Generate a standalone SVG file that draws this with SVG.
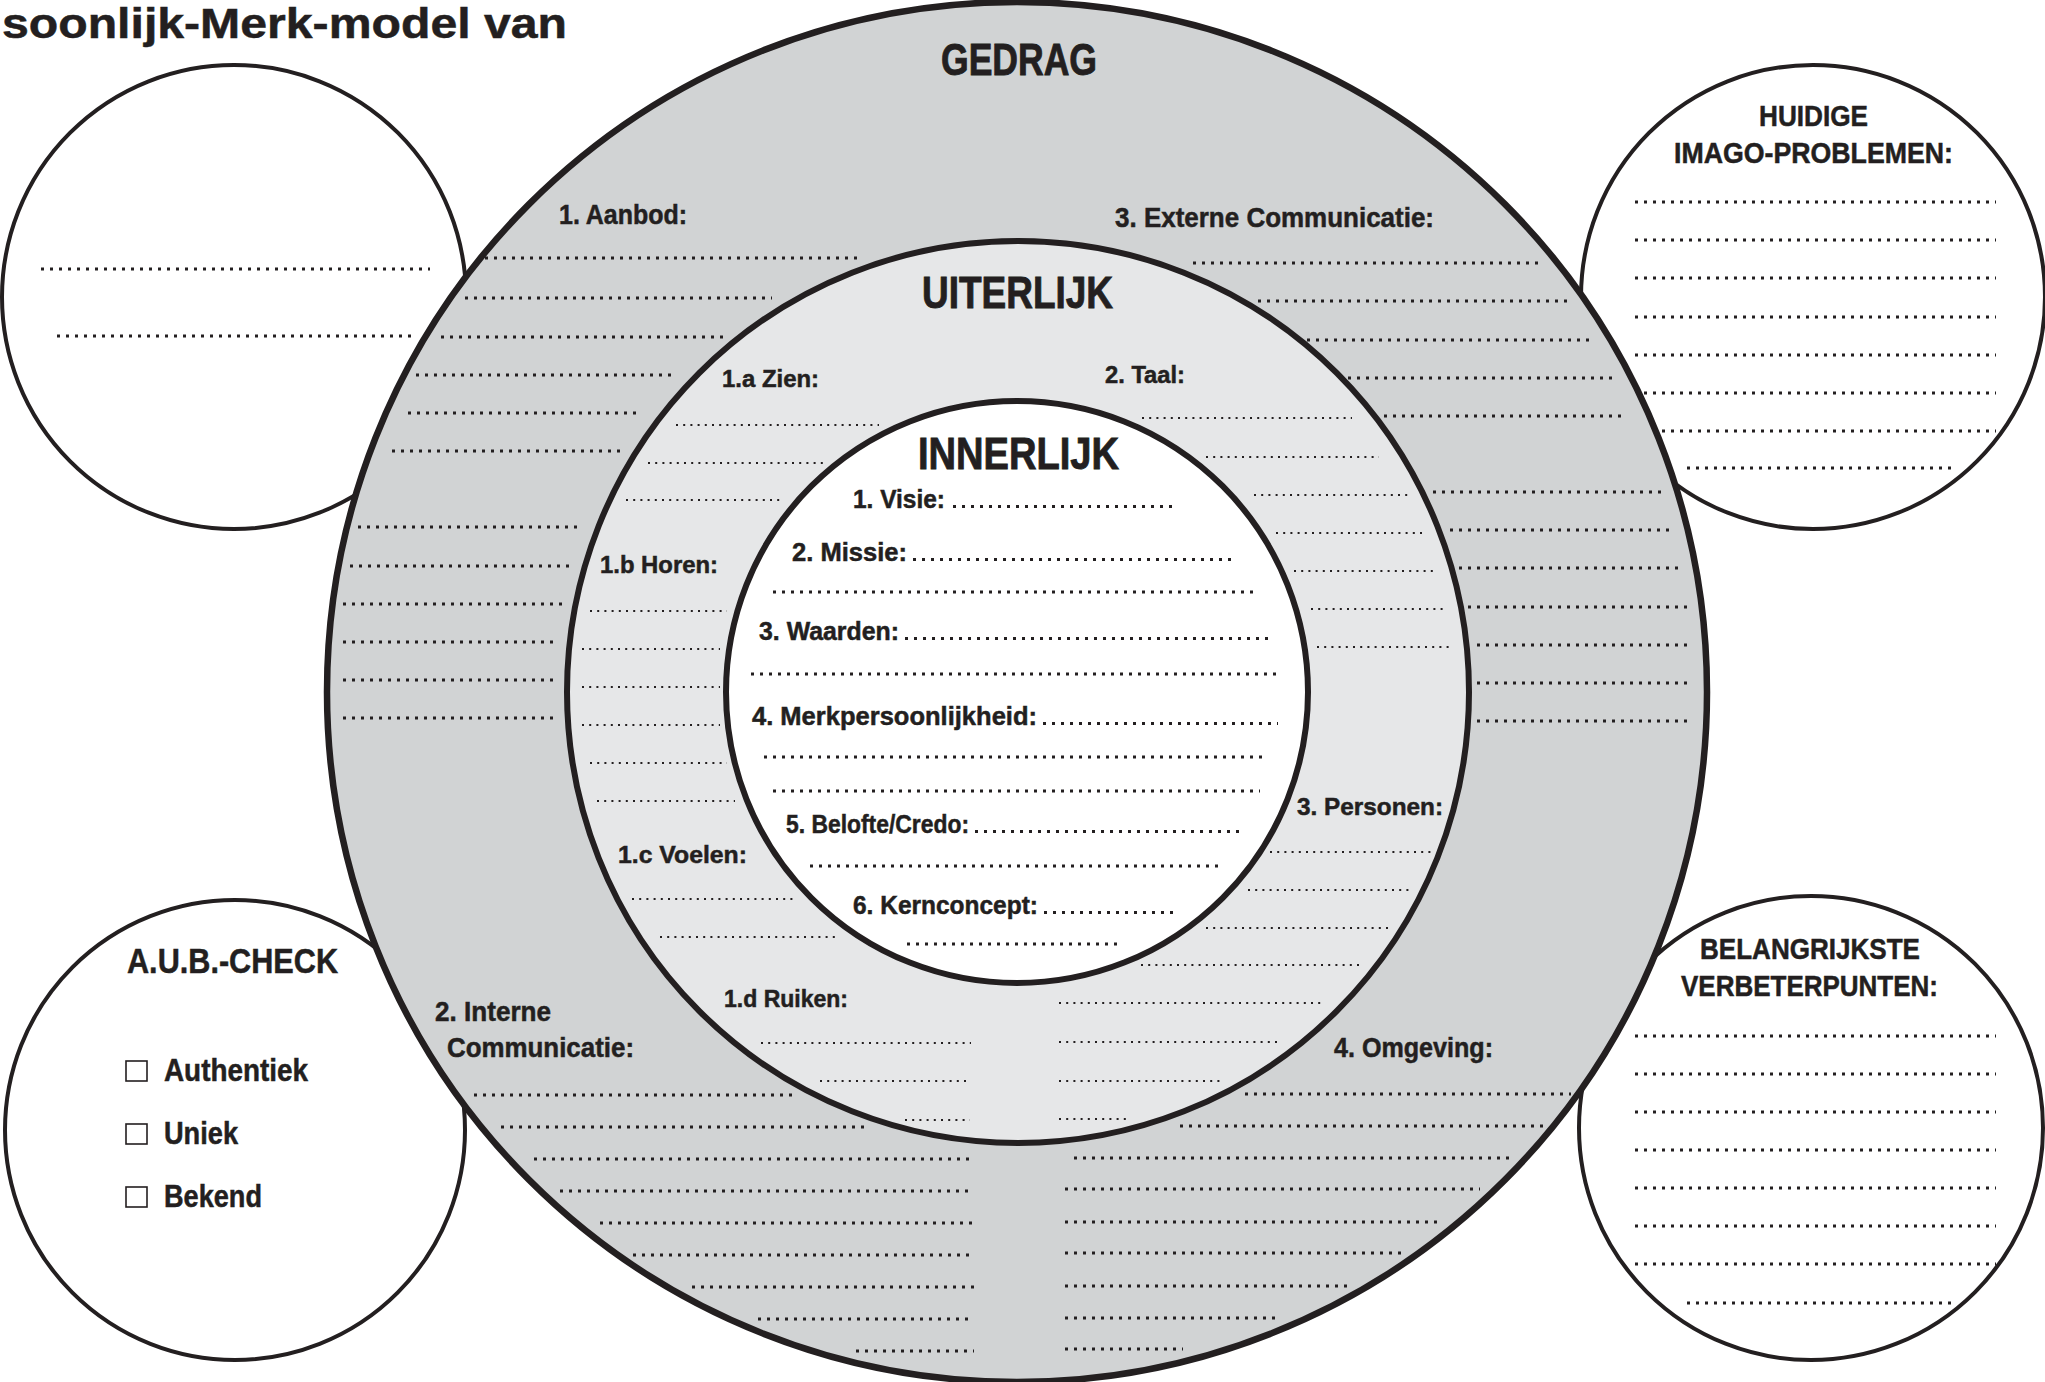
<svg xmlns="http://www.w3.org/2000/svg" width="2045" height="1382" viewBox="0 0 2045 1382">
<style>
  text { font-family: "Liberation Sans Narrow", "Liberation Sans", Arial, sans-serif; font-weight: bold; fill: #231f20; stroke: #231f20; stroke-width: 0.5; }
  .h { font-size: 45px; stroke-width: 0.9; }
  .lo { font-size: 28px; }
  .lm { font-size: 24px; }
  .li { font-size: 26px; }
  .wh { font-size: 29px; }
  .sc { fill: #ffffff; stroke: #231f20; stroke-width: 4; }
  .db { stroke: #231f20; stroke-width: 3; stroke-dasharray: 3 6; fill: none; }
  .df { stroke: #231f20; stroke-width: 2; stroke-dasharray: 2 5.2; fill: none; }
  .cb { fill: none; stroke: #231f20; stroke-width: 1.6; }
</style>
<rect x="0" y="0" width="2045" height="1382" fill="#ffffff"/>

<g id="title">
  <text x="2" y="38" font-size="42" stroke-width="1.4" textLength="565" lengthAdjust="spacingAndGlyphs">soonlijk-Merk-model van</text>
</g>

<g id="circle-top-left">
  <circle class="sc" cx="234" cy="297" r="232"/>
  <line class="db" x1="41" y1="269" x2="430" y2="269"/>
  <line class="db" x1="57" y1="336" x2="413" y2="336"/>
</g>

<g id="circle-huidige-imago">
  <circle class="sc" cx="1813" cy="297" r="232"/>
  <text class="wh" x="1759" y="126" textLength="109" lengthAdjust="spacingAndGlyphs">HUIDIGE</text>
  <text class="wh" x="1674" y="163" textLength="279" lengthAdjust="spacingAndGlyphs">IMAGO-PROBLEMEN:</text>
  <line class="db" x1="1635" y1="202" x2="1996" y2="202"/>
  <line class="db" x1="1635" y1="240" x2="1996" y2="240"/>
  <line class="db" x1="1635" y1="278" x2="1996" y2="278"/>
  <line class="db" x1="1635" y1="317" x2="1996" y2="317"/>
  <line class="db" x1="1635" y1="355" x2="1996" y2="355"/>
  <line class="db" x1="1635" y1="393" x2="1996" y2="393"/>
  <line class="db" x1="1635" y1="431" x2="1996" y2="431"/>
  <line class="db" x1="1687" y1="468" x2="1951" y2="468"/>
</g>

<g id="circle-aub-check">
  <circle class="sc" cx="235" cy="1130" r="230"/>
  <text x="127" y="973" font-size="35" textLength="211" lengthAdjust="spacingAndGlyphs">A.U.B.-CHECK</text>
  <rect class="cb" x="126" y="1061" width="21" height="20"/>
  <text x="164" y="1081" font-size="31" textLength="144" lengthAdjust="spacingAndGlyphs">Authentiek</text>
  <rect class="cb" x="126" y="1124" width="21" height="20"/>
  <text x="164" y="1144" font-size="31" textLength="74" lengthAdjust="spacingAndGlyphs">Uniek</text>
  <rect class="cb" x="126" y="1187" width="21" height="20"/>
  <text x="164" y="1207" font-size="31" textLength="98" lengthAdjust="spacingAndGlyphs">Bekend</text>
</g>

<g id="circle-verbeterpunten">
  <circle class="sc" cx="1811" cy="1128" r="232"/>
  <text class="wh" x="1700" y="959" textLength="220" lengthAdjust="spacingAndGlyphs">BELANGRIJKSTE</text>
  <text class="wh" x="1681" y="996" textLength="257" lengthAdjust="spacingAndGlyphs">VERBETERPUNTEN:</text>
  <line class="db" x1="1635" y1="1036" x2="1996" y2="1036"/>
  <line class="db" x1="1635" y1="1074" x2="1996" y2="1074"/>
  <line class="db" x1="1635" y1="1112" x2="1996" y2="1112"/>
  <line class="db" x1="1635" y1="1150" x2="1996" y2="1150"/>
  <line class="db" x1="1635" y1="1188" x2="1996" y2="1188"/>
  <line class="db" x1="1635" y1="1226" x2="1996" y2="1226"/>
  <line class="db" x1="1635" y1="1264" x2="1996" y2="1264"/>
  <line class="db" x1="1687" y1="1303" x2="1951" y2="1303"/>
</g>

<g id="ring-gedrag">
  <circle cx="1017" cy="692" r="690" fill="#d1d3d4" stroke="#231f20" stroke-width="6.5"/>
  <text class="h" x="941" y="75" textLength="156" lengthAdjust="spacingAndGlyphs">GEDRAG</text>
  <text class="lo" x="559" y="224" textLength="128" lengthAdjust="spacingAndGlyphs">1. Aanbod:</text>
  <text class="lo" x="1115" y="227" textLength="319" lengthAdjust="spacingAndGlyphs">3. Externe Communicatie:</text>
  <text class="lo" x="435" y="1021" textLength="116" lengthAdjust="spacingAndGlyphs">2. Interne</text>
  <text class="lo" x="447" y="1057" textLength="187" lengthAdjust="spacingAndGlyphs">Communicatie:</text>
  <text class="lo" x="1334" y="1057" textLength="159" lengthAdjust="spacingAndGlyphs">4. Omgeving:</text>
  <!-- left upper -->
  <line class="db" x1="485" y1="258" x2="862" y2="258"/>
  <line class="db" x1="465" y1="298" x2="772" y2="298"/>
  <line class="db" x1="441" y1="337" x2="723" y2="337"/>
  <line class="db" x1="416" y1="375" x2="674" y2="375"/>
  <line class="db" x1="408" y1="413" x2="641" y2="413"/>
  <line class="db" x1="392" y1="451" x2="624" y2="451"/>
  <!-- left lower -->
  <line class="db" x1="358" y1="527" x2="583" y2="527"/>
  <line class="db" x1="350" y1="566" x2="575" y2="566"/>
  <line class="db" x1="343" y1="604" x2="567" y2="604"/>
  <line class="db" x1="343" y1="642" x2="559" y2="642"/>
  <line class="db" x1="343" y1="680" x2="559" y2="680"/>
  <line class="db" x1="343" y1="718" x2="559" y2="718"/>
  <!-- right upper -->
  <line class="db" x1="1193" y1="263" x2="1538" y2="263"/>
  <line class="db" x1="1258" y1="301" x2="1567" y2="301"/>
  <line class="db" x1="1307" y1="340" x2="1590" y2="340"/>
  <line class="db" x1="1348" y1="378" x2="1614" y2="378"/>
  <line class="db" x1="1384" y1="416" x2="1623" y2="416"/>
  <!-- right lower -->
  <line class="db" x1="1433" y1="492" x2="1663" y2="492"/>
  <line class="db" x1="1450" y1="530" x2="1672" y2="530"/>
  <line class="db" x1="1459" y1="568" x2="1681" y2="568"/>
  <line class="db" x1="1468" y1="607" x2="1690" y2="607"/>
  <line class="db" x1="1477" y1="645" x2="1690" y2="645"/>
  <line class="db" x1="1477" y1="683" x2="1690" y2="683"/>
  <line class="db" x1="1477" y1="721" x2="1690" y2="721"/>
  <!-- bottom left -->
  <line class="db" x1="474" y1="1095" x2="798" y2="1095"/>
  <line class="db" x1="501" y1="1127" x2="867" y2="1127"/>
  <line class="db" x1="534" y1="1159" x2="974" y2="1159"/>
  <line class="db" x1="560" y1="1191" x2="974" y2="1191"/>
  <line class="db" x1="600" y1="1223" x2="974" y2="1223"/>
  <line class="db" x1="633" y1="1255" x2="974" y2="1255"/>
  <line class="db" x1="692" y1="1287" x2="974" y2="1287"/>
  <line class="db" x1="758" y1="1319" x2="974" y2="1319"/>
  <line class="db" x1="856" y1="1351" x2="974" y2="1351"/>
  <!-- bottom right -->
  <line class="db" x1="1245" y1="1094" x2="1571" y2="1094"/>
  <line class="db" x1="1180" y1="1126" x2="1545" y2="1126"/>
  <line class="db" x1="1074" y1="1158" x2="1513" y2="1158"/>
  <line class="db" x1="1065" y1="1189" x2="1480" y2="1189"/>
  <line class="db" x1="1065" y1="1222" x2="1438" y2="1222"/>
  <line class="db" x1="1065" y1="1253" x2="1405" y2="1253"/>
  <line class="db" x1="1065" y1="1286" x2="1347" y2="1286"/>
  <line class="db" x1="1065" y1="1318" x2="1281" y2="1318"/>
  <line class="db" x1="1065" y1="1349" x2="1183" y2="1349"/>
</g>

<g id="ring-uiterlijk">
  <circle cx="1018" cy="692" r="451" fill="#e6e7e8" stroke="#231f20" stroke-width="6"/>
  <text class="h" x="922" y="308" textLength="191" lengthAdjust="spacingAndGlyphs">UITERLIJK</text>
  <text class="lm" x="722" y="387" textLength="97" lengthAdjust="spacingAndGlyphs">1.a Zien:</text>
  <text class="lm" x="600" y="573" textLength="118" lengthAdjust="spacingAndGlyphs">1.b Horen:</text>
  <text class="lm" x="618" y="863" textLength="129" lengthAdjust="spacingAndGlyphs">1.c Voelen:</text>
  <text class="lm" x="724" y="1007" textLength="124" lengthAdjust="spacingAndGlyphs">1.d Ruiken:</text>
  <text class="lm" x="1105" y="383" textLength="80" lengthAdjust="spacingAndGlyphs">2. Taal:</text>
  <text class="lm" x="1297" y="815" textLength="146" lengthAdjust="spacingAndGlyphs">3. Personen:</text>
  <!-- zien -->
  <line class="df" x1="676" y1="425" x2="879" y2="425"/>
  <line class="df" x1="648" y1="463" x2="824" y2="463"/>
  <line class="df" x1="626" y1="500" x2="783" y2="500"/>
  <!-- horen -->
  <line class="df" x1="590" y1="611" x2="727" y2="611"/>
  <line class="df" x1="582" y1="649" x2="720" y2="649"/>
  <line class="df" x1="582" y1="687" x2="720" y2="687"/>
  <line class="df" x1="582" y1="725" x2="720" y2="725"/>
  <line class="df" x1="590" y1="763" x2="727" y2="763"/>
  <line class="df" x1="597" y1="801" x2="735" y2="801"/>
  <!-- voelen -->
  <line class="df" x1="632" y1="899" x2="797" y2="899"/>
  <line class="df" x1="660" y1="937" x2="835" y2="937"/>
  <!-- ruiken -->
  <line class="df" x1="761" y1="1043" x2="971" y2="1043"/>
  <line class="df" x1="820" y1="1081" x2="970" y2="1081"/>
  <line class="df" x1="905" y1="1120" x2="970" y2="1120"/>
  <!-- taal -->
  <line class="df" x1="1142" y1="418" x2="1352" y2="418"/>
  <line class="df" x1="1206" y1="457" x2="1379" y2="457"/>
  <line class="df" x1="1254" y1="495" x2="1411" y2="495"/>
  <line class="df" x1="1276" y1="533" x2="1427" y2="533"/>
  <line class="df" x1="1294" y1="571" x2="1437" y2="571"/>
  <line class="df" x1="1311" y1="609" x2="1447" y2="609"/>
  <line class="df" x1="1317" y1="647" x2="1452" y2="647"/>
  <!-- personen -->
  <line class="df" x1="1270" y1="852" x2="1433" y2="852"/>
  <line class="df" x1="1248" y1="890" x2="1413" y2="890"/>
  <line class="df" x1="1206" y1="928" x2="1390" y2="928"/>
  <line class="df" x1="1141" y1="965" x2="1362" y2="965"/>
  <line class="df" x1="1059" y1="1003" x2="1325" y2="1003"/>
  <line class="df" x1="1059" y1="1042" x2="1281" y2="1042"/>
  <line class="df" x1="1059" y1="1081" x2="1222" y2="1081"/>
  <line class="df" x1="1059" y1="1119" x2="1129" y2="1119"/>
</g>

<g id="core-innerlijk">
  <circle cx="1017" cy="692" r="291" fill="#ffffff" stroke="#231f20" stroke-width="6"/>
  <text class="h" x="918" y="469" textLength="201" lengthAdjust="spacingAndGlyphs">INNERLIJK</text>
  <text class="li" x="853" y="508" textLength="92" lengthAdjust="spacingAndGlyphs">1. Visie:</text>
  <line class="db" x1="953" y1="506.5" x2="1177" y2="506.5"/>
  <text class="li" x="792" y="561" textLength="115" lengthAdjust="spacingAndGlyphs">2. Missie:</text>
  <line class="db" x1="913" y1="559.5" x2="1231" y2="559.5"/>
  <line class="db" x1="773" y1="592" x2="1253" y2="592"/>
  <text class="li" x="759" y="640" textLength="140" lengthAdjust="spacingAndGlyphs">3. Waarden:</text>
  <line class="db" x1="905" y1="638.5" x2="1268" y2="638.5"/>
  <line class="db" x1="751" y1="674" x2="1280" y2="674"/>
  <text class="li" x="752" y="725" textLength="285" lengthAdjust="spacingAndGlyphs">4. Merkpersoonlijkheid:</text>
  <line class="db" x1="1043" y1="723.5" x2="1278" y2="723.5"/>
  <line class="db" x1="764" y1="757" x2="1268" y2="757"/>
  <line class="db" x1="773" y1="791" x2="1260" y2="791"/>
  <text class="li" x="786" y="833" textLength="183" lengthAdjust="spacingAndGlyphs">5. Belofte/Credo:</text>
  <line class="db" x1="975" y1="831.5" x2="1243" y2="831.5"/>
  <line class="db" x1="810" y1="866" x2="1222" y2="866"/>
  <text class="li" x="853" y="914" textLength="185" lengthAdjust="spacingAndGlyphs">6. Kernconcept:</text>
  <line class="db" x1="1044" y1="912.5" x2="1177" y2="912.5"/>
  <line class="db" x1="907" y1="944" x2="1123" y2="944"/>
</g>

<g id="connectors"></g>
</svg>
